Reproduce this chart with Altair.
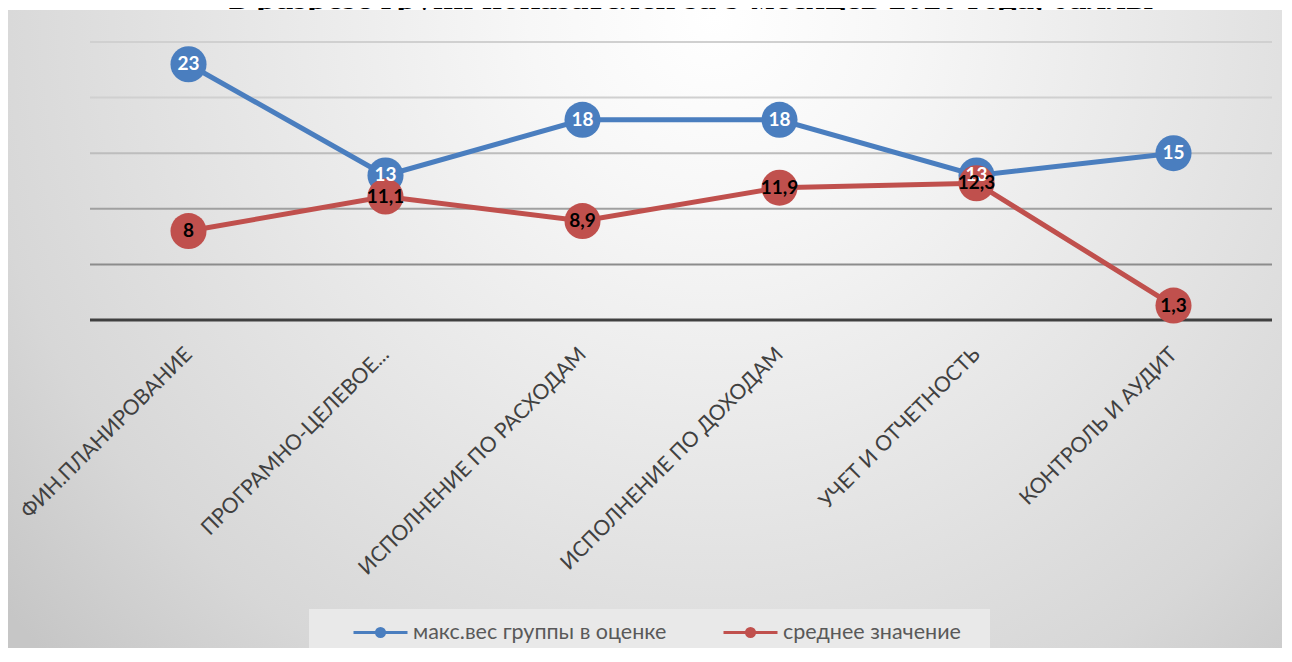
import altair as alt
import pandas as pd

title_text = "в разрезе групп показателей за 9 месяцев 2020 года, баллы"
categories = [
    "ФИН.ПЛАНИРОВАНИЕ",
    "ПРОГРАМНО-ЦЕЛЕВОЕ...",
    "ИСПОЛНЕНИЕ ПО РАСХОДАМ",
    "ИСПОЛНЕНИЕ ПО ДОХОДАМ",
    "УЧЕТ И ОТЧЕТНОСТЬ",
    "КОНТРОЛЬ И АУДИТ",
]
series_names = ["макс.вес группы в оценке", "среднее значение"]
max_weight = [23, 13, 18, 18, 13, 15]
mean_value = [8, 11.1, 8.9, 11.9, 12.3, 1.3]
series_colors = ["#4a7ebf", "#c0504d"]
grid_values = [0, 5, 10, 15, 20, 25]


def fmt(v):
    return f"{v:g}".replace(".", ",")


rows = []
for name, vals in zip(series_names, [max_weight, mean_value]):
    for c, v in zip(categories, vals):
        rows.append({"category": c, "series": name, "value": v, "label": fmt(v)})
df = pd.DataFrame(rows)
grid_df = pd.DataFrame({"v": grid_values})

W, H = 1182, 278
yscale = alt.Scale(domain=[0, 25], nice=False, zero=True)

x = alt.X(
    "category:N",
    sort=categories,
    scale=alt.Scale(type="point", padding=0.5),
    axis=alt.Axis(
        title=None,
        labelAngle=-45,
        labelAlign="right",
        labelBaseline="middle",
        labelPadding=31,
        labelFont="Lato",
        labelFontSize=21,
        labelColor="#404040",
        labelLimit=1000,
        ticks=False,
        domain=False,
        grid=False,
        zindex=1,
    ),
)
y = alt.Y("value:Q", scale=yscale, axis=None)

legend_symbol = (
    "M-1,0L1,0"
    "M0.15,0A0.15,0.15,0,1,1,-0.15,0A0.15,0.15,0,1,1,0.15,0"
    "M0.08,0A0.08,0.08,0,1,1,-0.08,0A0.08,0.08,0,1,1,0.08,0"
)

color = alt.Color(
    "series:N",
    sort=series_names,
    scale=alt.Scale(domain=series_names, range=series_colors),
    legend=alt.Legend(
        title=None,
        orient="none",
        legendX=262,
        legendY=562,
        direction="horizontal",
        labelFont="Lato",
        labelFontSize=21.5,
        labelColor="#595959",
        labelLimit=1000,
        symbolType=legend_symbol,
        symbolSize=2916,
        symbolStrokeWidth=3,
        labelOffset=4,
        columnPadding=50,
        padding=0,
        zindex=1,
    ),
)

title_mark = alt.Chart(alt.Data(values=[{"t": title_text}])).mark_text(
    font="Liberation Serif",
    fontSize=35,
    fontWeight="bold",
    color="black",
    align="center",
    baseline="alphabetic",
).encode(text="t:N", x=alt.value(601), y=alt.value(-33))

bg = alt.Chart(alt.Data(values=[{"k": 1}])).mark_rect(
    fill=alt.RadialGradient(
        gradient="radial",
        x1=0.55, y1=0.25, r1=0,
        x2=0.55, y2=0.25, r2=0.72,
        stops=[
            alt.GradientStop(color="#ffffff", offset=0),
            alt.GradientStop(color="#f7f7f7", offset=0.2),
            alt.GradientStop(color="#e5e5e5", offset=0.54),
            alt.GradientStop(color="#d7d7d7", offset=0.8),
            alt.GradientStop(color="#c6c6c6", offset=1),
        ],
    ),
).encode(
    x=alt.value(-82), x2=alt.value(1202), y=alt.value(-32), y2=alt.value(622)
)

legend_bg = alt.Chart(alt.Data(values=[{"k": 1}])).mark_rect(fill="#e9e9e9").encode(
    x=alt.value(219), x2=alt.value(900), y=alt.value(567), y2=alt.value(610)
)

grid = alt.Chart(grid_df).mark_rule().encode(
    y=alt.Y("v:Q", scale=yscale, axis=None),
    color=alt.value(
        "#d0d0d0",
        condition=[
            {"test": "datum.v == 0", "value": "#404040"},
            {"test": "datum.v <= 5", "value": "#8c8c8c"},
            {"test": "datum.v <= 10", "value": "#a0a0a0"},
            {"test": "datum.v <= 15", "value": "#bdbdbd"},
        ],
    ),
    strokeWidth=alt.value(2, condition=[{"test": "datum.v == 0", "value": 3}]),
)

base = alt.Chart(df)
lines = base.mark_line(strokeWidth=5).encode(x=x, y=y, color=color, detail="series:N")
points = base.mark_circle(size=1300, opacity=1).encode(x=x, y=y, color=color)
texts = base.mark_text(
    font="Lato", fontWeight="bold", fontSize=19, baseline="middle", align="center"
).encode(
    x=x,
    y=y,
    text="label:N",
    color=alt.condition(
        f"datum.series == '{series_names[0]}'", alt.value("white"), alt.value("black")
    ),
)

chart = (
    alt.layer(title_mark, bg, legend_bg, grid, lines, points, texts)
    .properties(
        width=W,
        height=H,
        autosize=alt.AutoSizeParams(type="none"),
        padding={"left": 82, "top": 34, "right": 10, "bottom": 328},
    )
    .configure_view(stroke=None)
    .configure(background="white")
)

chart.save("out.html", embed_options={"renderer": "svg", "actions": False})
